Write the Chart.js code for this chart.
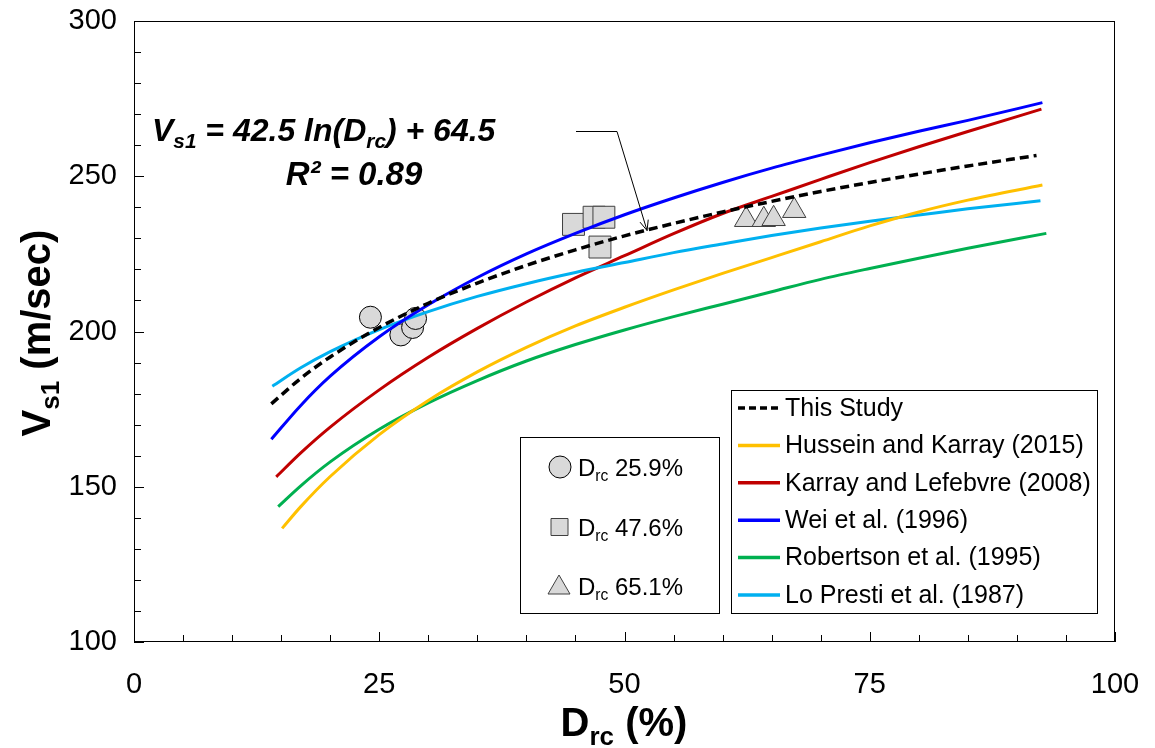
<!DOCTYPE html>
<html>
<head>
    <meta charset="utf-8">
    <title>Vs1 - Drc</title>
    <script src="https://cdn.jsdelivr.net/npm/chart.js"></script>
    <style>
        html, body {
            margin: 0;
            padding: 0;
            background: #fff;
        }
        .chart-container {
            position: relative;
            width: 1155px;
            height: 748px;
        }
    </style>
</head>
<body>
    <div class="chart-container">
        <canvas id="vsChart"></canvas>
    </div>

    <script>
        // Correlation curves, Drc (%) vs Vs1 (m/sec)
        const thisDrc = [14.0, 17, 20, 25, 30, 35, 40, 45, 50, 55, 60, 65, 70, 75, 80, 85, 92.0];
        const thisVs = [176.7, 184.9, 191.8, 201.3, 209.1, 215.6, 221.3, 226.3, 230.8, 234.8, 238.5,
                        241.9, 245.1, 248.0, 250.7, 253.3, 256.7];

        const husseinDrc = [15.1, 17, 20, 25, 30, 35, 40, 45, 50, 55, 60, 65, 70, 75, 80, 85, 92.6];
        const husseinVs = [136.6, 143.6, 153.3, 166.8, 177.8, 187.0, 194.9, 201.8, 207.8, 213.4, 218.7,
                           223.8, 228.9, 234.0, 238.5, 242.3, 247.2];

        const karrayDrc = [14.5, 17, 20, 25, 30, 35, 40, 45, 50, 55, 60, 65, 70, 75, 80, 85, 92.5];
        const karrayVs = [153.2, 160.9, 169.2, 181.2, 191.7, 201.0, 209.5, 217.3, 224.4, 231.5, 238.0,
                          243.5, 249.0, 254.4, 259.5, 264.4, 271.6];

        const weiDrc = [14.0, 17, 20, 25, 30, 35, 40, 45, 50, 55, 60, 65, 70, 75, 80, 85, 92.6];
        const weiVs = [165.3, 176.2, 185.6, 198.3, 208.6, 217.4, 225.0, 231.6, 237.6, 243.0, 248.0,
                       252.6, 256.8, 260.8, 264.5, 268.0, 273.7];

        const robertsonDrc = [14.7, 17, 20, 25, 30, 35, 40, 45, 50, 55, 60, 65, 70, 75, 80, 85, 93.0];
        const robertsonVs = [143.6, 150.3, 158.0, 168.5, 177.0, 184.2, 190.5, 195.8, 200.5, 204.8, 208.8,
                             212.8, 216.8, 220.3, 223.6, 226.8, 231.6];

        const loPrestiDrc = [14.1, 17, 20, 25, 30, 35, 40, 45, 50, 55, 60, 65, 70, 75, 80, 85, 92.4];
        const loPrestiVs = [182.4, 188.3, 193.5, 200.6, 206.4, 211.3, 215.4, 219.0, 222.2, 225.4, 228.2,
                            230.9, 233.3, 235.5, 237.5, 239.5, 242.1];

        // Measured points
        const circleDrc = [24.1, 27.2, 28.4, 28.7];
        const circleVs = [204.6, 198.9, 201.3, 204.2];
        const squareDrc = [44.8, 46.9, 47.9, 47.5];
        const squareVs = [234.5, 236.8, 236.8, 227.2];
        const triangleDrc = [62.4, 64.2, 65.2, 67.3];
        const triangleVs = [236.0, 236.0, 236.3, 238.9];

        const curveNames = ['This Study', 'Hussein and Karray (2015)', 'Karray and Lefebvre (2008)',
                            'Wei et al. (1996)', 'Robertson et al. (1995)', 'Lo Presti et al. (1987)'];
        const pointLabels = ['25.9%', '47.6%', '65.1%'];

        const FONT = "'Liberation Sans', Arial, sans-serif";

        const toXY = (xs, ys) => xs.map((x, i) => ({ x: x, y: ys[i] }));

        function curve(name, xs, ys, color, order, dash) {
            return {
                label: name,
                data: toXY(xs, ys),
                showLine: true,
                borderColor: color,
                backgroundColor: color,
                borderWidth: dash ? 3.5 : 3,
                borderDash: dash || [],
                pointRadius: 0,
                cubicInterpolationMode: 'monotone',
                order: order
            };
        }

        function markers(xs, ys, style, radius, edge) {
            return {
                data: toXY(xs, ys),
                showLine: false,
                pointStyle: style,
                pointRadius: radius,
                backgroundColor: '#d9d9d9',
                borderColor: edge,
                borderWidth: 1,
                order: 5
            };
        }

        // text with subscripts: parts = [[text, isSub], ...]
        function richWidth(ctx, parts, size, weight) {
            let w = 0;
            parts.forEach(p => {
                ctx.font = weight + ' ' + (p[1] ? size * 0.65 : size) + 'px ' + FONT;
                w += ctx.measureText(p[0]).width;
            });
            return w;
        }

        function drawRich(ctx, parts, x, y, size, weight, align) {
            const w = richWidth(ctx, parts, size, weight);
            let cx = align === 'center' ? x - w / 2 : x;
            ctx.textAlign = 'left';
            ctx.textBaseline = 'alphabetic';
            parts.forEach(p => {
                const s = p[1] ? size * 0.65 : size;
                ctx.font = weight + ' ' + s + 'px ' + FONT;
                ctx.fillText(p[0], cx, p[1] ? y + size * 0.22 : y);
                cx += ctx.measureText(p[0]).width;
            });
        }

        // keep the plot box fixed: no extra room for the outer tick labels
        function fixBox(scale, prop, size) {
            scale[prop] = size;
            scale.paddingTop = scale.paddingBottom = scale.paddingLeft = scale.paddingRight = 0;
        }

        const decorPlugin = {
            id: 'decor',
            afterDraw(chart) {
                const ctx = chart.ctx;
                const area = chart.chartArea;
                const xs = chart.scales.x;
                const ys = chart.scales.y;
                ctx.save();

                // plot frame
                ctx.strokeStyle = '#000';
                ctx.lineWidth = 1;
                ctx.strokeRect(area.left + 0.5, area.top + 0.5, area.right - area.left - 1, area.bottom - area.top - 1);

                // inward tick marks
                ctx.beginPath();
                for (let v = 0; v <= 100; v += 5) {
                    const px = Math.round(xs.getPixelForValue(v)) + 0.5;
                    const len = v % 25 === 0 ? 10 : 7;
                    ctx.moveTo(px, area.bottom);
                    ctx.lineTo(px, area.bottom - len);
                }
                for (let v = 100; v <= 300; v += 10) {
                    const py = Math.round(ys.getPixelForValue(v)) + 0.5;
                    const len = v % 50 === 0 ? 10 : 7;
                    ctx.moveTo(area.left, py);
                    ctx.lineTo(area.left + len, py);
                }
                ctx.stroke();

                ctx.fillStyle = '#000';

                // axis titles
                drawRich(ctx, [['D', false], ['rc', true], [' (%)', false]], 624, 736, 40, 'bold', 'center');
                ctx.save();
                ctx.translate(50, 333);
                ctx.rotate(-Math.PI / 2);
                drawRich(ctx, [['V', false], ['s1', true], [' (m/sec)', false]], 0, 0, 40, 'bold', 'center');
                ctx.restore();

                // regression equation
                drawRich(ctx, [['V', false], ['s1', true], [' = 42.5 ln(D', false], ['rc', true], [') + 64.5', false]],
                         152, 141, 32, 'italic bold', 'left');
                drawRich(ctx, [['R\u00b2 = 0.89', false]], 354, 185, 33, 'italic bold', 'center');

                // leader arrow to the fitted curve
                const tip = { x: xs.getPixelForValue(52.3), y: ys.getPixelForValue(232.5) };
                ctx.beginPath();
                ctx.moveTo(576, 131.5);
                ctx.lineTo(617, 131.5);
                ctx.lineTo(tip.x, tip.y);
                ctx.stroke();
                const ang = Math.atan2(tip.y - 131.5, tip.x - 617);
                ctx.beginPath();
                ctx.moveTo(tip.x - 11 * Math.cos(ang - 0.4), tip.y - 11 * Math.sin(ang - 0.4));
                ctx.lineTo(tip.x, tip.y);
                ctx.lineTo(tip.x - 11 * Math.cos(ang + 0.4), tip.y - 11 * Math.sin(ang + 0.4));
                ctx.stroke();

                // curve legend
                ctx.fillStyle = '#fff';
                ctx.fillRect(731, 390, 366, 223);
                ctx.strokeStyle = '#000';
                ctx.strokeRect(731.5, 390.5, 366, 223);
                const lineSets = chart.data.datasets.slice(0, 6);
                lineSets.forEach((ds, i) => {
                    const y = 408 + i * 37.4;
                    ctx.beginPath();
                    ctx.strokeStyle = ds.borderColor;
                    ctx.lineWidth = 3.5;
                    ctx.setLineDash(ds.borderDash.length ? [7, 4] : []);
                    ctx.moveTo(738, y);
                    ctx.lineTo(780, y);
                    ctx.stroke();
                    ctx.setLineDash([]);
                    ctx.fillStyle = '#000';
                    ctx.font = '25px ' + FONT;
                    ctx.textAlign = 'left';
                    ctx.textBaseline = 'middle';
                    ctx.fillText(curveNames[i], 785, y + 1);
                });

                // marker legend
                ctx.lineWidth = 1;
                ctx.fillStyle = '#fff';
                ctx.fillRect(520, 437, 199, 176);
                ctx.strokeStyle = '#000';
                ctx.strokeRect(520.5, 437.5, 199, 176);
                const rows = [467, 527, 586];
                rows.forEach((y, i) => {
                    ctx.fillStyle = '#d9d9d9';
                    ctx.strokeStyle = i === 0 ? '#000' : '#404040';
                    ctx.beginPath();
                    if (i === 0) {
                        ctx.arc(560, y, 11, 0, Math.PI * 2);
                    } else if (i === 1) {
                        ctx.rect(551, y - 8.5, 17, 17);
                    } else {
                        ctx.moveTo(559, y - 11);
                        ctx.lineTo(570, y + 8);
                        ctx.lineTo(548, y + 8);
                        ctx.closePath();
                    }
                    ctx.fill();
                    ctx.stroke();
                    ctx.fillStyle = '#000';
                    drawRich(ctx, [['D', false], ['rc', true], [' ' + pointLabels[i], false]], 578, y + 8.5, 24, 'normal', 'left');
                });

                ctx.restore();
            }
        };

        const ctx = document.getElementById('vsChart').getContext('2d');
        const vsChart = new Chart(ctx, {
            type: 'scatter',
            data: {
                datasets: [
                    curve(curveNames[0], thisDrc, thisVs, '#000000', 0, [9, 5]),
                    curve(curveNames[1], husseinDrc, husseinVs, '#FFC000', 1),
                    curve(curveNames[2], karrayDrc, karrayVs, '#C00000', 10),
                    curve(curveNames[3], weiDrc, weiVs, '#0000FF', 2),
                    curve(curveNames[4], robertsonDrc, robertsonVs, '#00B050', 3),
                    curve(curveNames[5], loPrestiDrc, loPrestiVs, '#00B0F0', 4),
                    markers(circleDrc, circleVs, 'circle', 11, '#000'),
                    markers(squareDrc, squareVs, 'rect', 15.5, '#404040'),
                    markers(triangleDrc, triangleVs, 'triangle', 13.5, '#404040')
                ]
            },
            options: {
                responsive: true,
                maintainAspectRatio: false,
                animation: false,
                layout: {
                    padding: { top: 21, right: 40, left: 0, bottom: 0 }
                },
                plugins: {
                    legend: { display: false },
                    tooltip: { enabled: false }
                },
                scales: {
                    x: {
                        type: 'linear',
                        min: 0,
                        max: 100,
                        ticks: {
                            stepSize: 25,
                            padding: 26,
                            color: '#000',
                            font: { family: FONT, size: 29 }
                        },
                        grid: { display: false, drawTicks: false },
                        border: { display: false },
                        afterFit: function(scale) { fixBox(scale, 'height', 106); }
                    },
                    y: {
                        min: 100,
                        max: 300,
                        ticks: {
                            stepSize: 50,
                            padding: 17,
                            color: '#000',
                            font: { family: FONT, size: 29 }
                        },
                        grid: { display: false, drawTicks: false },
                        border: { display: false },
                        afterFit: function(scale) { fixBox(scale, 'width', 134); }
                    }
                }
            },
            plugins: [decorPlugin]
        });
    </script>
</body>
</html>
